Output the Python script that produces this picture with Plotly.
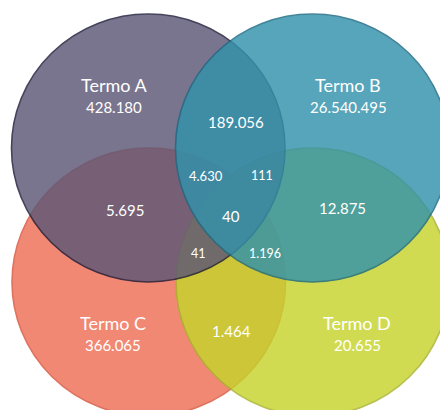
import plotly.graph_objects as go

# Four-set Venn diagram: exclusive counts per term and counts of each overlap
set_names = ["Termo A", "Termo B", "Termo C", "Termo D"]
set_only_counts = [428180, 26540495, 366065, 20655]

overlap_keys = ["AB", "AC", "BD", "CD", "ABC", "ABD", "ACD", "BCD", "ABCD"]
overlap_counts = [189056, 5695, 12875, 1464, 4630, 111, 41, 1196, 40]


def fmt(v):
    return f"{v:,}".replace(",", ".")


# Ellipse boxes (x0, x1, y0, y1) in pixel-like axis units, y grows downward
circle_boxes = {
    "A": (11.5, 285.0, 14.0, 282.0),
    "B": (175.5, 449.0, 14.0, 282.0),
    "C": (12.0, 285.5, 148.0, 416.0),
    "D": (176.0, 449.5, 148.0, 416.0),
}
fill_colors = {"A": "#5d5776", "B": "#3392ab", "C": "#ee6f56", "D": "#c6d42c"}
edge_colors = {"A": "#1c1c38", "B": "#1c6a84", "C": "#d8553c", "D": "#a8b228"}
draw_order = ["C", "D", "A", "B"]
circle_opacity = 0.82

# Label anchor points for set titles and overlap counts
title_pos = {"A": (114, 85), "B": (348, 85), "C": (113, 323), "D": (357, 323)}
count_offset = 22
overlap_pos = {
    "AB": (236, 122), "AC": (125, 210), "BD": (342, 208), "CD": (231, 331),
    "ABC": (206, 176), "ABD": (262, 175), "ACD": (198, 253),
    "BCD": (265, 253), "ABCD": (231, 216),
}
overlap_size = {
    "AB": 15, "AC": 15, "BD": 15, "CD": 15,
    "ABC": 13, "ABD": 12.5, "ACD": 12.5, "BCD": 12.5, "ABCD": 15,
}

fig = go.Figure()

shapes = []
for key in draw_order:
    x0, x1, y0, y1 = circle_boxes[key]
    shapes.append(dict(
        type="circle", xref="x", yref="y",
        x0=x0, x1=x1, y0=y0, y1=y1,
        fillcolor=fill_colors[key],
        line=dict(color=edge_colors[key], width=1.6),
        opacity=circle_opacity,
        layer="above",
    ))

annotations = []
font_family = "Lato, 'Open Sans', sans-serif"
for i, key in enumerate("ABCD"):
    x, y = title_pos[key]
    annotations.append(dict(
        x=x, y=y, text=set_names[i], showarrow=False,
        font=dict(family=font_family, size=18, color="white"),
        xanchor="center", yanchor="middle",
    ))
    annotations.append(dict(
        x=x, y=y + count_offset, text=fmt(set_only_counts[i]), showarrow=False,
        font=dict(family=font_family, size=15, color="white"),
        xanchor="center", yanchor="middle",
    ))

for key, val in zip(overlap_keys, overlap_counts):
    x, y = overlap_pos[key]
    annotations.append(dict(
        x=x, y=y, text=fmt(val), showarrow=False,
        font=dict(family=font_family, size=overlap_size[key], color="white"),
        xanchor="center", yanchor="middle",
    ))

fig.update_layout(
    width=440, height=410,
    margin=dict(l=0, r=0, t=0, b=0),
    paper_bgcolor="white", plot_bgcolor="white",
    xaxis=dict(range=[0, 440], visible=False, fixedrange=True),
    yaxis=dict(range=[410, 0], visible=False, fixedrange=True),
    shapes=shapes,
    annotations=annotations,
    showlegend=False,
)

fig.write_html("out.html", config={"displayModeBar": False})
